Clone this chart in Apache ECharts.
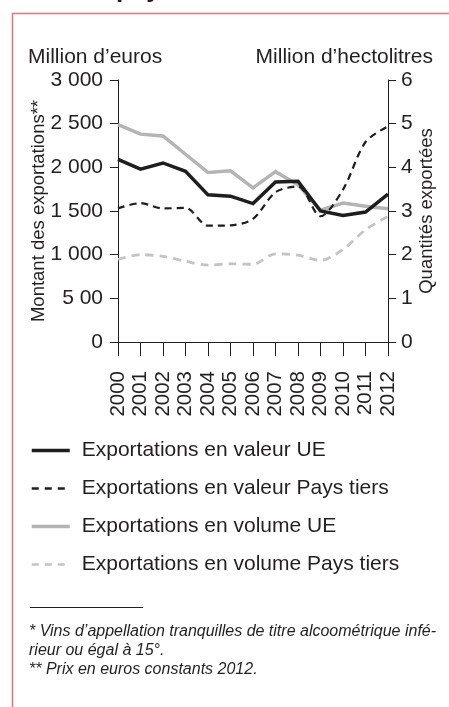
<!DOCTYPE html>
<html>
<head>
<meta charset="utf-8">
<script src="https://cdn.jsdelivr.net/npm/echarts@6/dist/echarts.min.js"></script>
<style>
  html, body { margin: 0; padding: 0; background: #fff; }
  #chart { width: 449px; height: 707px; }
</style>
</head>
<body>
<div id="chart"></div>
<script>
// données
const years = ['2000', '2001', '2002', '2003', '2004', '2005', '2006', '2007', '2008', '2009', '2010', '2011', '2012']
const valeurUE = [2090, 1980, 2050, 1955, 1685, 1670, 1585, 1832, 1840, 1500, 1450, 1488, 1692]
const valeurPaysTiers = [1530, 1590, 1530, 1535, 1332, 1336, 1410, 1715, 1782, 1440, 1745, 2290, 2470]
const volumeUE = [4.98, 4.76, 4.72, 4.30, 3.88, 3.92, 3.53, 3.90, 3.60, 3.02, 3.18, 3.11, 3.05]
const volumePaysTiers = [1.89, 2.00, 1.96, 1.85, 1.76, 1.79, 1.78, 2.02, 1.99, 1.87, 2.12, 2.57, 2.88]
const leftTickLabels = ['0', '5 00', '1 000', '1 500', '2 000', '2 500', '3 000']
const rightTickLabels = ['0', '1', '2', '3', '4', '5', '6']

const FONT = 'Liberation Sans, Arial, sans-serif'
const INK = '#231f20'
const BLACK = '#1e1e1e'
const GREY = '#b4b4b4'
const LIGHT_GREY = '#c4c4c4'

const chart = echarts.init(document.getElementById('chart'), null, { renderer: 'canvas' })

chart.setOption({
  backgroundColor: '#fff',
  animation: false,
  textStyle: { fontFamily: FONT, color: INK },
  grid: {
    left: 118,
    right: 61,
    top: 80,
    bottom: 365
  },
  xAxis: {
    type: 'category',
    data: years,
    boundaryGap: false,
    axisLine: { lineStyle: { color: INK, width: 1 } },
    axisTick: { show: true, length: 14, lineStyle: { color: INK }, alignWithLabel: true },
    axisLabel: { interval: 0, rotate: 90, margin: 29, fontSize: 20.5, color: INK, fontFamily: FONT }
  },
  yAxis: [
    {
      type: 'value',
      min: 0,
      max: 3000,
      interval: 500,
      position: 'left',
      name: 'Montant des exportations**',
      nameLocation: 'middle',
      nameGap: 70,
      nameMoveOverlap: false,
      nameTextStyle: { fontSize: 18.5, color: INK, fontFamily: FONT },
      splitLine: { show: false },
      axisLine: { show: true, lineStyle: { color: INK, width: 1 } },
      axisTick: { show: true, length: 8, lineStyle: { color: INK } },
      axisLabel: {
        margin: 15,
        fontSize: 21,
        color: INK,
        fontFamily: FONT,
        formatter: v => leftTickLabels[Math.round(v / 500)]
      }
    },
    {
      type: 'value',
      min: 0,
      max: 6,
      interval: 1,
      position: 'right',
      name: 'Quantités exportées',
      nameLocation: 'middle',
      nameGap: 29,
      nameMoveOverlap: false,
      nameTextStyle: { fontSize: 18.5, color: INK, fontFamily: FONT },
      splitLine: { show: false },
      axisLine: { show: true, lineStyle: { color: INK, width: 1 } },
      axisTick: { show: true, length: 8, lineStyle: { color: INK } },
      axisLabel: {
        margin: 13,
        fontSize: 21,
        color: INK,
        fontFamily: FONT,
        formatter: v => rightTickLabels[Math.round(v)]
      }
    }
  ],
  legend: {
    orient: 'vertical',
    left: 25,
    top: 435,
    itemWidth: 38,
    itemHeight: 20,
    itemGap: 17,
    selectedMode: false,
    itemStyle: { opacity: 0 },
    textStyle: { fontSize: 21, color: INK, fontFamily: FONT, padding: [0, 0, 8, 7] },
    data: [
      { name: 'Exportations en valeur UE', lineStyle: { width: 3.5, color: BLACK } },
      { name: 'Exportations en valeur Pays tiers', lineStyle: { width: 2.4, color: BLACK, type: [7, 6] } },
      { name: 'Exportations en volume UE', lineStyle: { width: 3.5, color: GREY } },
      { name: 'Exportations en volume Pays tiers', lineStyle: { width: 2.6, color: LIGHT_GREY, type: [7, 6] } }
    ]
  },
  series: [
    {
      name: 'Exportations en valeur UE',
      type: 'line',
      yAxisIndex: 0,
      data: valeurUE,
      symbol: 'none',
      z: 4,
      itemStyle: { color: BLACK },
      lineStyle: { color: BLACK, width: 3.5, join: 'miter' }
    },
    {
      name: 'Exportations en valeur Pays tiers',
      type: 'line',
      yAxisIndex: 0,
      data: valeurPaysTiers,
      symbol: 'none',
      smooth: 0.3,
      z: 3,
      itemStyle: { color: BLACK },
      lineStyle: { color: BLACK, width: 2.2, type: [7, 5] }
    },
    {
      name: 'Exportations en volume UE',
      type: 'line',
      yAxisIndex: 1,
      data: volumeUE,
      symbol: 'none',
      z: 2,
      itemStyle: { color: GREY },
      lineStyle: { color: GREY, width: 3.5, join: 'miter' }
    },
    {
      name: 'Exportations en volume Pays tiers',
      type: 'line',
      yAxisIndex: 1,
      data: volumePaysTiers,
      symbol: 'none',
      smooth: 0.3,
      z: 1,
      itemStyle: { color: LIGHT_GREY },
      lineStyle: { color: LIGHT_GREY, width: 2.8, type: [8, 6] }
    }
  ],
  graphic: [
    // cadre rose
    {
      type: 'polyline',
      shape: { points: [[12.5, 707], [12.5, 13.5], [449, 13.5]] },
      style: { stroke: '#e9707e', lineWidth: 1.5, fill: null },
      silent: true
    },
    // bas du titre coupé
    {
      type: 'text',
      left: 116,
      top: -23,
      style: { text: 'pays', font: 'bold 26px ' + FONT, fill: INK },
      silent: true
    },
    {
      type: 'text',
      left: 28,
      top: 47,
      style: { text: 'Million d’euros', font: '21px ' + FONT, fill: INK },
      silent: true
    },
    {
      type: 'text',
      right: 16,
      top: 47,
      style: { text: 'Million d’hectolitres', font: '21px ' + FONT, fill: INK },
      silent: true
    },
    // filet des notes
    {
      type: 'line',
      shape: { x1: 30, y1: 607.5, x2: 143, y2: 607.5 },
      style: { stroke: INK, lineWidth: 1 },
      silent: true
    },
    {
      type: 'text',
      left: 29,
      top: 622,
      style: {
        text: '* Vins d’appellation tranquilles de titre alcoométrique infé-\nrieur ou égal à 15°.\n** Prix en euros constants 2012.',
        font: 'italic 16px ' + FONT,
        fill: INK,
        lineHeight: 19
      },
      silent: true
    }
  ]
})
</script>
</body>
</html>
